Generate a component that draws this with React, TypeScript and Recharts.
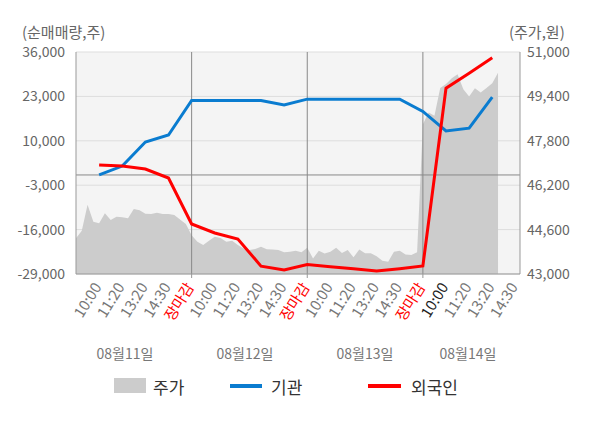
import React from 'react';
import {
  Area,
  CartesianGrid,
  ComposedChart,
  Line,
  ReferenceLine,
  XAxis,
  YAxis,
} from 'recharts';

const FONT = '"Noto Sans CJK KR", "Noto Sans", sans-serif';

// x axis is measured in "slots": each trading day spans 5 slots
// (10:00, 11:20, 13:20, 14:30, 장마감), day N ends at slot 5N.
const timeTicks = [
  '10:00', '11:20', '13:20', '14:30', '장마감',
  '10:00', '11:20', '13:20', '14:30', '장마감',
  '10:00', '11:20', '13:20', '14:30', '장마감',
  '10:00', '11:20', '13:20', '14:30',
];
const dayLabels = ['08월11일', '08월12일', '08월13일', '08월14일'];

// intraday share price (원), one sample every quarter slot from the first open
const PRICE_STEP = 0.25;
const price = [
  44290, 44560, 45500, 44885, 44827, 45188, 44946, 45065, 45043, 45007,
  45340, 45300, 45170, 45162, 45210, 45162, 45162, 45126, 44960, 44800,
  44400, 44165, 44045, 44200, 44345, 44300, 44165, 44200, 44045, 43920,
  43865, 43900, 43980, 43890, 43880, 43865, 43780, 43803, 43840, 43780,
  43950, 43560, 43840, 43740, 43803, 43950, 43760, 43865, 43600, 43880,
  43745, 43745, 43640, 43480, 43443, 43803, 43840, 43700, 43685, 43780,
  48400, 48820, 48700, 49700, 49850, 50050, 50200, 49660, 49400, 49690,
  49540, 49700, 49870, 50250,
];

// cumulative net buying (주), one value per labelled slot 1..18
const institution = [
  0, 2600, 9650, 11700, 21800,
  21800, 21800, 21800, 20500, 22200,
  22200, 22200, 22200, 22200, 18600,
  12900, 13700, 22800,
];
const foreign = [
  2900, 2620, 1740, -890, -14360,
  -17000, -18750, -26700, -27830, -26200,
  -26860, -27450, -28120, -27450, -26660,
  25400, 29800, 34300,
];

const leftTicks = [-29000, -16000, -3000, 10000, 23000, 36000];
const rightTicks = [43000, 44600, 46200, 47800, 49400, 51000];

type Row = { t: number; price?: number; inst?: number; frgn?: number };

const rows: Row[] = price.map((p, i) => ({ t: i * PRICE_STEP, price: p }));
institution.forEach((v, i) => {
  const t = i + 1;
  const row = rows.find((r) => r.t === t);
  if (row) {
    row.inst = v;
    row.frgn = foreign[i];
  } else {
    rows.push({ t, inst: v, frgn: foreign[i] });
  }
});
rows.sort((a, b) => a.t - b.t);

const fmt = (v: number) => v.toLocaleString('en-US');

function TimeTick(props: any) {
  const { x, y, payload } = props;
  const label = timeTicks[payload.value - 1];
  const isClose = label === '장마감';
  const isToday = payload.value === 16;
  const ax = x + 3;
  const ay = y + 13;
  return (
    <g>
      {isClose && <line x1={x} y1={y} x2={x} y2={y + 4} stroke="#999" />}
      <text
        x={ax}
        y={ay}
        transform={`rotate(-58, ${ax}, ${ay})`}
        textAnchor="end"
        fontSize={15}
        fontFamily={FONT}
        fill={isClose ? '#ff0000' : isToday ? '#222' : '#777'}
      >
        {label}
      </text>
    </g>
  );
}

const dayCenters = [125, 245, 365, 468];

const note: React.CSSProperties = {
  position: 'absolute',
  top: 24,
  fontSize: 15,
  lineHeight: '15px',
  color: '#666',
};

export default function App() {
  return (
    <div
      style={{
        position: 'absolute',
        left: 0,
        top: 0,
        width: 600,
        height: 428,
        background: '#fff',
        fontFamily: FONT,
      }}
    >
      <ComposedChart
        width={600}
        height={428}
        data={rows}
        margin={{ top: 52, right: 0, bottom: 94, left: 0 }}
      >
        <CartesianGrid
          yAxisId="left"
          vertical={false}
          stroke="#dddddd"
          fill="#f4f4f4"
        />
        <XAxis
          dataKey="t"
          type="number"
          domain={[0, 19.2]}
          ticks={timeTicks.map((_, i) => i + 1)}
          interval={0}
          height={60}
          tickSize={0}
          tickMargin={0}
          tickLine={false}
          axisLine={{ stroke: '#999' }}
          tick={<TimeTick />}
        />
        <YAxis
          yAxisId="left"
          width={76}
          domain={[-29000, 36000]}
          ticks={leftTicks}
          tickFormatter={fmt}
          tickSize={0}
          tickMargin={11}
          tickLine={false}
          axisLine={{ stroke: '#999' }}
          tick={{ fontSize: 14, fill: '#666', fontFamily: FONT }}
        />
        <YAxis
          yAxisId="right"
          orientation="right"
          width={80}
          domain={[43000, 51000]}
          ticks={rightTicks}
          tickFormatter={fmt}
          tickSize={0}
          tickMargin={7}
          tickLine={false}
          axisLine={{ stroke: '#999' }}
          tick={{ fontSize: 14, fill: '#666', fontFamily: FONT, textAnchor: 'start' }}
        />
        <Area
          yAxisId="right"
          dataKey="price"
          type="linear"
          fill="#cccccc"
          fillOpacity={1}
          stroke="none"
          connectNulls
          isAnimationActive={false}
        />
        <ReferenceLine yAxisId="left" y={0} stroke="#888" />
        {[5, 10, 15].map((d) => (
          <ReferenceLine key={d} yAxisId="left" x={d} stroke="#888" />
        ))}
        <Line
          yAxisId="left"
          dataKey="inst"
          type="linear"
          stroke="#0a7cd0"
          strokeWidth={3}
          dot={false}
          connectNulls
          isAnimationActive={false}
        />
        <Line
          yAxisId="left"
          dataKey="frgn"
          type="linear"
          stroke="#ff0000"
          strokeWidth={3}
          dot={false}
          connectNulls
          isAnimationActive={false}
        />
      </ComposedChart>

      <div style={{ ...note, left: 22 }}>(순매매량,주)</div>
      <div style={{ ...note, left: 509 }}>(주가,원)</div>

      {dayLabels.map((d, i) => (
        <div
          key={d}
          style={{
            position: 'absolute',
            left: dayCenters[i] - 40,
            width: 80,
            top: 343,
            textAlign: 'center',
            fontSize: 14,
            color: '#777',
          }}
        >
          {d}
        </div>
      ))}

      <div style={{ position: 'absolute', left: 114, top: 378, width: 32, height: 15, background: '#cccccc' }} />
      <div style={{ position: 'absolute', left: 153, top: 374, fontSize: 17, color: '#333' }}>주가</div>
      <div style={{ position: 'absolute', left: 230, top: 384, width: 32, height: 4, background: '#0a7cd0' }} />
      <div style={{ position: 'absolute', left: 271, top: 374, fontSize: 17, color: '#333' }}>기관</div>
      <div style={{ position: 'absolute', left: 368, top: 384, width: 33, height: 4, background: '#ff0000' }} />
      <div style={{ position: 'absolute', left: 411, top: 374, fontSize: 17, color: '#333' }}>외국인</div>
    </div>
  );
}
